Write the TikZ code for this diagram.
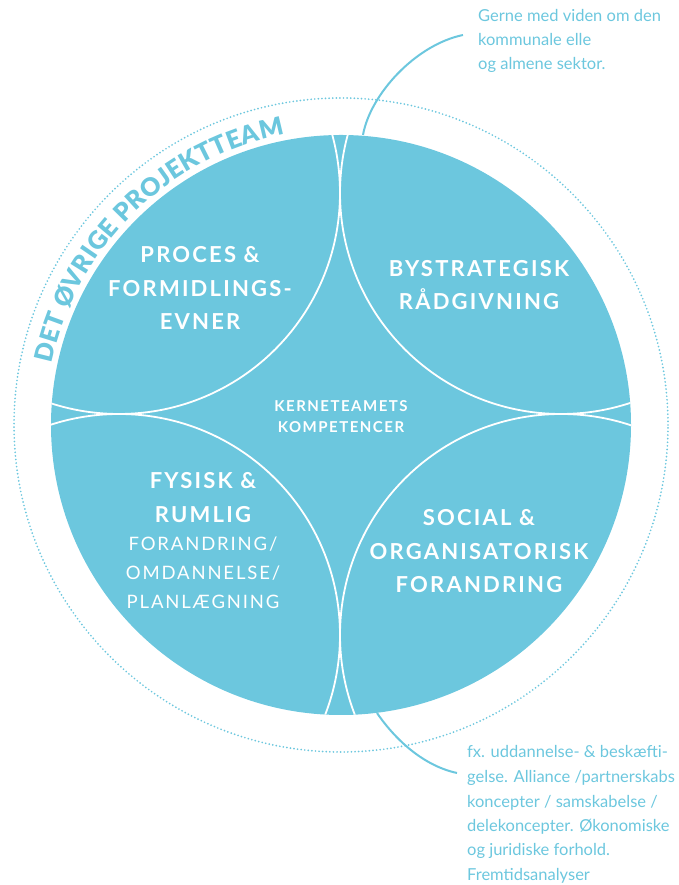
\documentclass[tikz,border=0pt]{standalone}
\usepackage{fontspec}
\setmainfont{Lato}
\newfontfamily\headfont{Lato}[LetterSpace=10]
\newfontfamily\arcfont{Lato Black}
\usetikzlibrary{decorations.text}
\definecolor{sky}{RGB}{108,199,222}

\begin{document}
\begin{tikzpicture}[x=1pt,y=1pt,
  heading/.style={text=white, inner sep=0pt, anchor=base, font=\headfont\bfseries\fontsize{22}{22}\selectfont},
  subheading/.style={text=white, inner sep=0pt, anchor=base, font=\headfont\fontsize{18.5}{18.5}\selectfont},
  core/.style={text=white, inner sep=0pt, anchor=base, font=\headfont\bfseries\fontsize{15}{15}\selectfont},
  note/.style={text=sky, inner sep=0pt, anchor=base west, font=\fontsize{16.5}{16.5}\selectfont},
  leader/.style={draw=sky, line width=2pt},
  seam/.style={draw=white, line width=1.8pt}]
\useasboundingbox (0,0) rectangle (678,885);

% main disc and dotted outer ring
\coordinate (O) at (341,460);
\fill[sky] (O) circle[radius=290pt];
\draw[sky, line width=1.9pt, line cap=round, dash pattern=on 0pt off 3.6pt] (O) circle[radius=327pt];

% four touching circles, clipped to the disc
\begin{scope}
  \clip (O) circle[radius=290pt];
  \foreach \p in {(119,692),(561,692),(119,250),(561,250)}
    \draw[seam] \p circle[radius=221pt];
\end{scope}

% curved title between disc and ring
\path[decorate, decoration={text along path, text align={fit to path},
  text={|\arcfont\fontsize{25}{25}\selectfont\color{sky}|DET ØVRIGE PROJEKTTEAM}}]
  ([shift={(O)}]168:296pt) arc[start angle=168, end angle=101, radius=296pt];

% upper left
\node[heading] (pa) at (200,622) {PROCES \&};
\node[heading] (pb) at (200,588) {FORMIDLINGS-};
\node[heading] (pc) at (200,555) {EVNER};

% upper right
\node[heading] (ba) at (479,608) {BYSTRATEGISK};
\node[heading] (bb) at (479,575) {RÅDGIVNING};

% centre
\node[core] (ka) at (341,473) {KERNETEAMETS};
\node[core] (kb) at (341,452) {KOMPETENCER};

% lower left
\node[heading] (fa) at (203,396) {FYSISK \&};
\node[heading] (fb) at (203,362) {RUMLIG};
\node[subheading] (fc) at (203,334) {FORANDRING/};
\node[subheading] (fd) at (203,305) {OMDANNELSE/};
\node[subheading] (fe) at (203,276) {PLANLÆGNING};

% lower right
\node[heading] (sa) at (479,359) {SOCIAL \&};
\node[heading] (sb) at (479,325) {ORGANISATORISK};
\node[heading] (sc) at (479,292) {FORANDRING};

% upper note
\node[note] (ta) at (478,863) {Gerne med viden om den};
\node[note] (tb) at (478,839) {kommunale elle};
\node[note] (tc) at (478,815) {og almene sektor.};

% lower note
\node[note] (na) at (467,127) {fx. uddannelse- \& beskæfti-};
\node[note] (nb) at (467,102) {gelse. Alliance /partnerskabs};
\node[note] (nc) at (467,77) {koncepter / samskabelse /};
\node[note] (nd) at (467,53) {delekoncepter. Økonomiske};
\node[note] (ne) at (467,29) {og juridiske forhold.};
\node[note] (nf) at (467,5) {Fremtidsanalyser};

% leader lines
\coordinate (t0) at (363,750);
\coordinate (t1) at (463,850);
\draw[leader] (t0) .. controls (370,790) and (415,840) .. (t1);
\coordinate (b0) at (377,172);
\coordinate (b1) at (457,112);
\draw[leader] (b0) .. controls (392,150) and (420,120) .. (b1);
\end{tikzpicture}
\end{document}
